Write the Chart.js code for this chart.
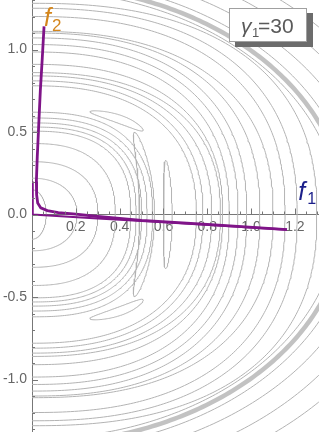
<!DOCTYPE html>
<html><head><meta charset="utf-8">
<script src="https://cdn.jsdelivr.net/npm/chart.js@4"></script>
<style>html,body{margin:0;padding:0;background:#fff;overflow:hidden}</style>
</head><body>
<canvas id="c" width="319" height="432"></canvas>
<script>
// ---- tick labels ----
const xTickValues = [0.2, 0.4, 0.6, 0.8, 1.0, 1.2];
const xTickLabels = ['0.2', '0.4', '0.6', '0.8', '1.0', '1.2'];
const yTickValues = [-1.0, -0.5, 0.0, 0.5, 1.0];
const yTickLabels = ['-1.0', '-0.5', '0.0', '0.5', '1.0'];

// ---- closed contour ovals (semi-extent along f1, along f2, squareness) ----
const contourF1 = [0.065, 0.205, 0.30, 0.38, 0.45, 0.475, 0.50, 0.525, 0.55,
                   0.75, 0.78, 0.82, 0.86, 0.87, 0.90, 0.94, 0.98, 1.04, 1.10, 1.155, 1.21, 1.30,
                   1.40, 1.47, 1.55, 1.65, 1.76];
const contourF2 = [0.15, 0.22, 0.32, 0.43, 0.505, 0.53, 0.555, 0.585, 0.62,
                   0.78, 0.81, 0.84, 0.86, 0.91, 0.985, 1.03, 1.07, 1.10, 1.11, 1.20, 1.25, 1.28,
                   1.36, 1.43, 1.50, 1.60, 1.70];
const contourShape = [2, 2.2, 2.4, 2.5, 2.6, 2.6, 2.6, 2.6, 2.6,
                      2.4, 2.4, 2.4, 2.4, 2.4, 2.4, 2.4, 2.4, 2.4, 2.4, 2.4, 2.4, 2.4,
                      2, 2, 2, 2, 2];
// the dense (thick) contour band
const bandF1 = [1.43];
const bandF2 = [1.39];
const bandShape = [2];

// ---- crescent-shaped closed contours ----
const lensF1 = [0.68, 0.68, 0.525, 0.62];
const lensF2 = [0.645, 0.655, 1.08, 1.84];
const lensShape = [2.6, 2.6, 2, 2];
const lensStartDeg = [47, -73, -27.5, -10.3];
const lensEndDeg = [73, -47, 27.5, 10.3];
const lensSpread = [0.035, 0.035, 0.065, 0.032];

// ---- purple trajectory (two branches) ----
const pathAf1 = [0.055, 0.047, 0.038, 0.031, 0.024, 0.020, 0.021, 0.026, 0.040, 0.070, 0.120, 0.200, 0.300, 0.500, 0.800, 1.164];
const pathAf2 = [1.14, 0.95, 0.75, 0.55, 0.35, 0.20, 0.12, 0.07, 0.040, 0.024, 0.012, 0.002, -0.012, -0.035, -0.060, -0.092];
const pathBf1 = [0.003, 0.003, 0.30, 0.60, 1.164];
const pathBf2 = [0.20, 0.0, -0.024, -0.047, -0.092];

// ---- axis-label annotations ----
const labelF2 = {x: 0.055, y: 1.145};
const labelF1 = {x: 1.215, y: 0.088};

function ovalPoints(a, b, p, n) {
  const pts = [];
  for (let i = 0; i <= n; i++) {
    const t = -Math.PI / 2 + Math.PI * i / n;
    const c = Math.cos(t), s = Math.sin(t);
    pts.push({x: a * Math.pow(Math.abs(c), 2 / p), y: b * Math.sign(s) * Math.pow(Math.abs(s), 2 / p)});
  }
  return pts;
}
function lensPoints(A, B, p, d0, d1, w, n) {
  const t0 = d0 * Math.PI / 180, t1 = d1 * Math.PI / 180;
  const edge = (t, r) => {
    const c = Math.cos(t), s = Math.sin(t);
    return {x: A * r * Math.sign(c) * Math.pow(Math.abs(c), 2 / p), y: B * r * Math.sign(s) * Math.pow(Math.abs(s), 2 / p)};
  };
  const pts = [];
  for (let i = 0; i <= n; i++) {
    const g = Math.sqrt(Math.max(0, Math.sin(Math.PI * i / n)));
    pts.push(edge(t0 + (t1 - t0) * i / n, 1 + w * g));
  }
  for (let i = n; i >= 0; i--) {
    const g = Math.sqrt(Math.max(0, Math.sin(Math.PI * i / n)));
    pts.push(edge(t0 + (t1 - t0) * i / n, 1 - w * g));
  }
  return pts;
}

const contourColor = '#b3b3b3';
const purple = '#7f1488';
const datasets = [];
datasets.push({data: pathAf1.map((v, i) => ({x: v, y: pathAf2[i]})), borderColor: purple, borderWidth: 2.8, order: 0});
datasets.push({data: pathBf1.map((v, i) => ({x: v, y: pathBf2[i]})), borderColor: purple, borderWidth: 2.2, order: 0});
contourF1.forEach((a, i) => datasets.push({data: ovalPoints(a, contourF2[i], contourShape[i], 240), borderColor: contourColor, borderWidth: 1, order: 2}));
bandF1.forEach((a, i) => datasets.push({data: ovalPoints(a, bandF2[i], bandShape[i], 240), borderColor: '#c2c2c2', borderWidth: 4.5, order: 2}));
lensF1.forEach((a, i) => datasets.push({data: lensPoints(a, lensF2[i], lensShape[i], lensStartDeg[i], lensEndDeg[i], lensSpread[i], 80), borderColor: contourColor, borderWidth: 1, order: 2}));
datasets.forEach(d => { d.showLine = true; d.pointRadius = 0; d.fill = false; d.tension = 0; });

const zeroPad = s => { s.paddingLeft = 0; s.paddingRight = 0; s.paddingTop = 0; s.paddingBottom = 0; };
const tickFont = {family: 'Liberation Sans', size: 14};

const decor = {
  id: 'decor',
  afterDraw(chart) {
    const ctx = chart.ctx, xs = chart.scales.x, ys = chart.scales.y, ca = chart.chartArea;
    const x0 = xs.getPixelForValue(0), y0 = ys.getPixelForValue(0);
    ctx.save();
    ctx.strokeStyle = '#777'; ctx.lineWidth = 1;
    ctx.beginPath();
    for (let k = -13; k <= 13; k++) {
      const py = Math.round(ys.getPixelForValue(k / 10)) + 0.5;
      const len = (k % 5 === 0) ? 6 : 3;
      ctx.moveTo(x0, py); ctx.lineTo(x0 + len, py);
    }
    for (let k = 1; k <= 26; k++) {
      const px = Math.round(xs.getPixelForValue(k * 0.05)) + 0.5;
      const len = (k % 4 === 0) ? 6 : 3;
      ctx.moveTo(px, y0); ctx.lineTo(px, y0 - len);
    }
    ctx.stroke();
    // f2 label
    let px = xs.getPixelForValue(labelF2.x), py = ys.getPixelForValue(labelF2.y);
    ctx.fillStyle = '#d4861c';
    ctx.font = 'italic 25px "Liberation Sans"';
    ctx.textBaseline = 'alphabetic'; ctx.textAlign = 'left';
    ctx.fillText('f', px, py);
    ctx.font = '17px "Liberation Sans"';
    ctx.fillText('2', px + 8, py + 5);
    // f1 label
    px = xs.getPixelForValue(labelF1.x); py = ys.getPixelForValue(labelF1.y);
    ctx.fillStyle = '#1b1f8a';
    ctx.font = 'italic 25px "Liberation Sans"';
    ctx.fillText('f', px, py);
    ctx.font = '16px "Liberation Sans"';
    ctx.fillText('1', px + 9, py + 4);
    // gamma box
    const bw = 78, bh = 34, bx = ca.right - 90, by = ca.top + 8;
    ctx.fillStyle = '#6c6c6c'; ctx.fillRect(bx + 6, by + 5, bw, bh);
    ctx.fillStyle = '#ffffff'; ctx.fillRect(bx, by, bw, bh);
    ctx.strokeStyle = '#a0a0a0'; ctx.strokeRect(bx + 0.5, by + 0.5, bw - 1, bh - 1);
    ctx.fillStyle = '#5a5a5a';
    ctx.font = 'italic 21px "Liberation Sans"';
    ctx.fillText('\u03b3', bx + 12, by + 25);
    ctx.font = '13px "Liberation Sans"';
    ctx.fillText('1', bx + 23, by + 29);
    ctx.font = '21px "Liberation Sans"';
    ctx.fillText('=30', bx + 29, by + 25);
    ctx.restore();
  }
};

new Chart(document.getElementById('c'), {
  type: 'scatter',
  data: {datasets},
  options: {
    responsive: false, animation: false, devicePixelRatio: 1,
    layout: {padding: 0},
    plugins: {legend: {display: false}, tooltip: {enabled: false}},
    scales: {
      x: {
        type: 'linear', min: 0, max: 1.31, position: {y: 0}, z: 1,
        grid: {display: false, drawTicks: false},
        border: {display: true, color: '#777', width: 1},
        ticks: {color: '#666', font: tickFont, padding: 4, maxRotation: 0, autoSkip: false,
                callback: (v, i) => xTickLabels[i]},
        afterBuildTicks: s => { s.ticks = xTickValues.map(v => ({value: v})); },
        afterFit: s => { s.height = 0; zeroPad(s); }
      },
      y: {
        type: 'linear', min: -1.318, max: 1.30, position: 'left', z: 1,
        grid: {display: false, drawTicks: false},
        border: {display: true, color: '#777', width: 1},
        ticks: {color: '#666', font: tickFont, padding: 5, autoSkip: false,
                callback: (v, i) => yTickLabels[i]},
        afterBuildTicks: s => { s.ticks = yTickValues.map(v => ({value: v})); },
        afterFit: s => { s.width = 32; zeroPad(s); }
      }
    }
  },
  plugins: [decor]
});
</script>
</body></html>
